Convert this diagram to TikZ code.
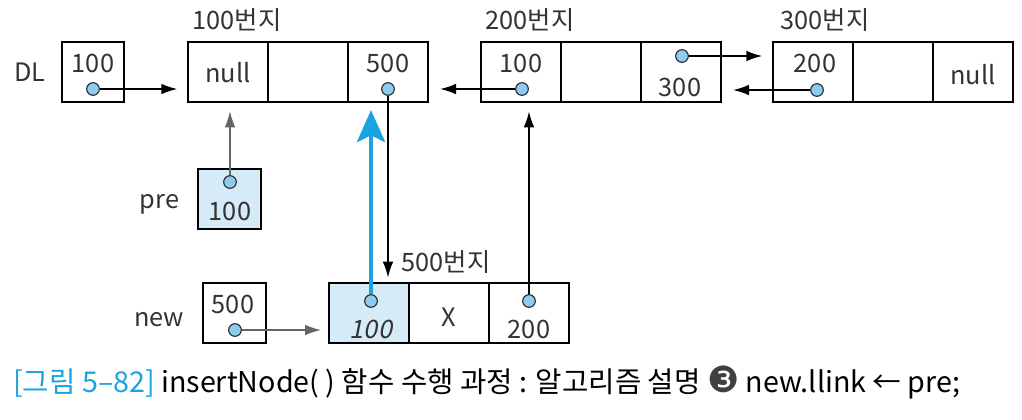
\documentclass[tikz,border=0pt]{standalone}
\usepackage{fontspec}
\setmainfont{Noto Sans CJK KR}
\newfontfamily\symfont{DejaVu Sans}
\newfontfamily\slantfont{Noto Sans CJK KR}[FakeSlant=0.2]
\usetikzlibrary{arrows.meta,positioning,calc}
\definecolor{cDot}{HTML}{8DCBF0}
\definecolor{cFill}{HTML}{D6EBF8}
\definecolor{cNew}{HTML}{1AA3E0}
\definecolor{cGray}{HTML}{666666}
\definecolor{cText}{HTML}{333333}
\tikzset{
  cell/.style={draw, line width=1.3pt, minimum width=60pt, minimum height=45pt,
    inner sep=0pt, outer sep=0pt},
  pbox/.style={cell, minimum width=47pt},
  ptr/.style={circle, draw=black!85, line width=0.8pt, fill=cDot, minimum size=9.5pt,
    inner sep=0pt},
  lbl/.style={font=\fontsize{19}{21}\selectfont, text=cText, inner sep=0pt},
  link/.style={-{Latex[length=12pt,width=8pt]}, line width=1.3pt},
  glink/.style={link, draw=cGray, line width=1pt},
  newlink/.style={-{Stealth[length=24pt,width=21pt,inset=5pt]}, draw=cNew, line width=3.5pt},
}

\begin{document}
\begin{tikzpicture}[x=0.75pt, y=-0.75pt]
  \useasboundingbox (0,0) rectangle (1022,419);
  % DL head pointer
  \node[pbox, minimum width=46.5pt] (dl) at (93,72) {};
  \node[lbl, left=12pt of dl] {DL};
  \node[lbl] at (93,63) {100};
  \node[ptr] (dlp) at (93,89) {};
  % node at 100
  \node[cell] (a1) at (228,72) {};
  \node[cell, right=0pt of a1] (a2) {};
  \node[cell, right=0pt of a2] (a3) {};
  \node[lbl] at (237,20) {100번지};
  \node[lbl] at (228,73) {null};
  \node[lbl] at (388,63) {500};
  \node[ptr] (a3p) at (388,89) {};
  % node at 200
  \node[cell] (b1) at (521,72) {};
  \node[cell, right=0pt of b1] (b2) {};
  \node[cell, right=0pt of b2] (b3) {};
  \node[lbl] at (530,20) {200번지};
  \node[lbl] at (521,63) {100};
  \node[ptr] (b1p) at (522,89) {};
  \node[lbl] at (680,87) {300};
  \node[ptr] (b3p) at (682,56) {};
  % node at 300
  \node[cell] (c1) at (813,72) {};
  \node[cell, right=0pt of c1] (c2) {};
  \node[cell, right=0pt of c2] (c3) {};
  \node[lbl] at (825,20) {300번지};
  \node[lbl] at (815,63) {200};
  \node[ptr] (c1p) at (817,90) {};
  \node[lbl] at (973,75) {null};
  % pre
  \node[pbox, fill=cFill] (pre) at (229.5,199) {};
  \node[lbl, left=14pt of pre, yshift=-4pt] {pre};
  \node[lbl] at (230,211) {100};
  \node[ptr] (prep) at (230,182) {};
  % new pointer
  \node[pbox] (new) at (234.5,313) {};
  \node[lbl, left=14pt of new, yshift=-5pt] {new};
  \node[lbl] at (233,304) {500};
  \node[ptr] (newp) at (235,330) {};
  % new node at 500
  \node[cell, fill=cFill] (d1) at (369,313) {};
  \node[cell, right=0pt of d1] (d2) {};
  \node[cell, right=0pt of d2] (d3) {};
  \node[lbl] at (446,262) {500번지};
  \node[lbl] at (371,329) {\slantfont 100};
  \node[lbl] at (449,317) {X};
  \node[lbl] at (529,329) {200};
  \node[ptr] (d1p) at (371,301) {};
  \node[ptr] (d3p) at (529,301) {};
  % links
  \draw[link, shorten >=8pt] (dlp) -- (dlp -| a1.west);
  \draw[link, shorten >=9pt] (b1p) -- (b1p -| a3.east);
  \draw[link, shorten >=8pt] (b3p) -- (b3p -| c1.west);
  \draw[link, shorten >=9pt] (c1p) -- (c1p -| b3.east);
  \draw[glink, shorten >=7pt] (prep) -- (prep |- a1.south);
  \draw[glink, shorten >=6pt] (newp) -- (newp -| d1.west);
  \draw[link, shorten >=4pt] (a3p) -- (a3p |- d1.north);
  \draw[link, shorten >=7pt] (d3p) -- (d3p |- b1.south);
  \draw[newlink, shorten >=6pt] (d1p) -- (d1p |- a1.south);
  % caption
  \node[anchor=west, inner sep=0pt, font=\fontsize{21.5}{24}\selectfont] (cap) at (13,382)
    {\textcolor{cNew}{[그림 5–82]} insertNode( ) 함수 수행 과정 : 알고리즘 설명
     {\symfont\fontsize{27}{27}\selectfont\textcolor{black!75}{❸}} new.llink ← pre;};
\end{tikzpicture}
\end{document}
